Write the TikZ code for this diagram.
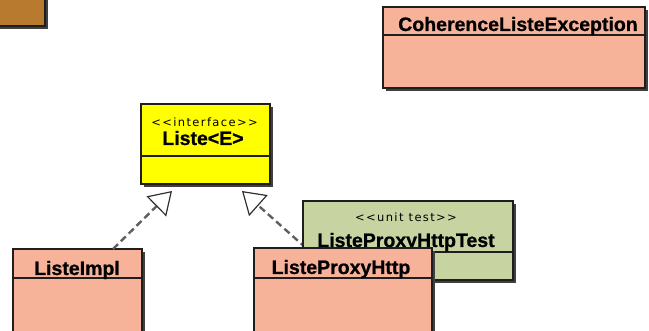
\documentclass[tikz,border=0pt]{standalone}
\usepackage{fontspec}
\setmainfont{Liberation Sans}[BoldFeatures={FakeBold=0.8}]
\newfontfamily\stfont[LetterSpace=12]{DejaVu Sans}
\usetikzlibrary{arrows.meta,calc,shadows}
\definecolor{salmon}{HTML}{F7B39A}
\definecolor{umlgreen}{HTML}{C8D3A2}
\definecolor{umlbrown}{HTML}{B87A2E}
\definecolor{umlyellow}{HTML}{FFFF00}
\definecolor{edge}{HTML}{1E1E1E}
\definecolor{dashcol}{HTML}{606060}
\definecolor{tipcol}{HTML}{303030}
\begin{document}
\begin{tikzpicture}[x=1pt,y=-1pt,
  box/.style={draw=edge, line width=1.4pt, inner sep=0pt, outer sep=0pt, anchor=north west,
    drop shadow={shadow xshift=3pt, shadow yshift=-3pt, fill=black!75, opacity=1}},
  sepline/.style={draw=edge, line width=1.2pt},
  cname/.style={anchor=base, inner sep=0pt, font=\fontsize{19.5}{21}\selectfont\bfseries, text=black},
  stereo/.style={anchor=base, inner sep=0pt, font=\stfont\fontsize{11.5}{12}\selectfont, text=black},
  real/.style={draw=dashcol, line width=2.4pt, dash pattern=on 7pt off 4pt,
    -{Triangle[open, length=22pt, width=28pt, fill=white, line width=1.2pt, color=tipcol]}}
]
\useasboundingbox (0,0) rectangle (649,331);
% brown box
\node[box, fill=umlbrown, minimum width=55pt, minimum height=36pt] (brown) at (-10,-10) {};
% CoherenceListeException
\node[box, fill=salmon, minimum width=262pt, minimum height=81pt] (coh) at (383,7) {};
\draw[sepline] ([yshift=-28pt]coh.north west) -- ([yshift=-28pt]coh.north east);
\node[cname] (cohname) at (518,31) {CoherenceListeException};
% interface Liste<E>
\node[box, fill=umlyellow, minimum width=129pt, minimum height=80pt] (liste) at (141,104) {};
\draw[sepline] ([yshift=-52pt]liste.north west) -- ([yshift=-52pt]liste.north east);
\node[stereo] (listest) at (204.5,127) {<<interface>>};
\node[cname] (listename) at (203,145) {Liste<E>};
\coordinate (t1) at (172,191);
\coordinate (t2) at (242,191);
% arrow to the proxy
\coordinate (s2) at (306,248);
\draw[real] (s2) -- (t2);
% test box
\node[box, fill=umlgreen, minimum width=210pt, minimum height=79pt] (test) at (303,201) {};
\draw[sepline] ([yshift=-51pt]test.north west) -- ([yshift=-51pt]test.north east);
\node[stereo] (testst) at (406,222) {<<unit test>>};
\node[cname] (testname) at (406,247) {ListeProxyHttpTest};
% ListeProxyHttp
\node[box, fill=salmon, minimum width=178pt, minimum height=92pt] (proxy) at (254,248) {};
\draw[sepline] ([yshift=-30pt]proxy.north west) -- ([yshift=-30pt]proxy.north east);
\node[cname] (proxyname) at (341,274) {ListeProxyHttp};
% ListeImpl
\node[box, fill=salmon, minimum width=129pt, minimum height=91pt] (impl) at (13,249) {};
\draw[real] ([xshift=100pt]impl.north west) -- (t1);
\draw[sepline] ([yshift=-29pt]impl.north west) -- ([yshift=-29pt]impl.north east);
\node[cname] (implname) at (77,275) {ListeImpl};
\end{tikzpicture}
\end{document}
